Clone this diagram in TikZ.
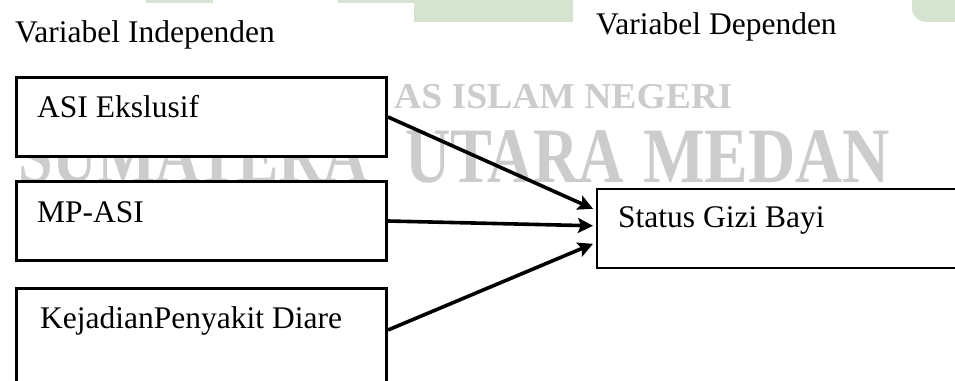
\documentclass[tikz,border=0pt]{standalone}
\usepackage{fontspec}
\usepackage{graphicx}
\setmainfont{Liberation Serif}
\usetikzlibrary{arrows.meta,calc}
\definecolor{wmgray}{RGB}{204,204,204}
\definecolor{wmgreen}{RGB}{214,227,209}
\begin{document}
\begin{tikzpicture}[x=1pt,y=-1pt,
  lbl/.style={anchor=base west,inner sep=0pt,font=\fontsize{31.5}{36}\selectfont},
  varbox/.style={draw,line width=3pt,fill=white,anchor=north west,minimum width=370pt,minimum height=79pt,inner sep=0pt},
  depbox/.style={draw,line width=1.6pt,fill=white,anchor=north west,minimum width=420pt,minimum height=79pt,inner sep=0pt},
  conn/.style={line width=3.6pt,-{Stealth[length=15pt,width=15pt,inset=3pt]}},
  wmbig/.style={anchor=base west,inner sep=0pt,text height=52pt,text depth=0pt,text=wmgray,font=\bfseries\fontsize{78.5}{80}\selectfont},
  wmsmall/.style={anchor=base west,inner sep=0pt,text height=24pt,text depth=0pt,text=wmgray,font=\bfseries\fontsize{36.5}{40}\selectfont}]
\useasboundingbox (0,0) rectangle (955,380);
\fill[white] (0,0) rectangle (955,380);
% watermark
\fill[wmgreen] (146,0) rectangle (213,3);
\fill[wmgreen] (338,0) rectangle (573,3);
\fill[wmgreen] (414,0) rectangle (573,22);
\fill[wmgreen] (912,0) -- (912,8) arc[start angle=180,end angle=90,radius=14] -- (960,-6) -- (960,0) -- cycle;
\fill[wmgreen] (912,0) rectangle (960,8);
\fill[wmgreen] (926,0) rectangle (960,22);
\node[wmsmall] (wm1) at (394,108) {\scalebox{1.03}[1]{AS ISLAM NEGERI}};
\node[wmbig] (wm2) at (18,182) {\scalebox{0.79}[1]{SUMATERA}};
\node[wmbig] (wm3) at (405,182) {\scalebox{0.80}[1]{UTARA}};
\node[wmbig] (wm4) at (643,182) {\scalebox{0.833}[1]{MEDAN}};
% headings
\node[lbl] (hi) at (15,42) {Variabel Independen};
\node[lbl] (hd) at (596,34) {Variabel Dependen};
% boxes
\node[varbox] (b1) at (15,76) {};
\node[varbox] (b2) at (15,180) {};
\node[varbox,minimum height=120pt] (b3) at (15,287) {};
\node[depbox] (t) at (596,188) {};
\node[lbl] (l1) at (37,117) {ASI Ekslusif};
\node[lbl] (l2) at (37,222) {MP-ASI};
\node[lbl] (l3) at (40,328) {KejadianPenyakit Diare};
\node[lbl] (lt) at (618,227) {Status Gizi Bayi};
% connectors
\draw[conn] (b1.east) -- ($(t.west)+(-3,-19.5)$);
\draw[conn] (b2.east) -- ($(t.west)+(-3,-2.5)$);
\draw[conn] ($(b3.north east)+(0,43)$) -- ($(t.west)+(-3,15.5)$);
\end{tikzpicture}
\end{document}
